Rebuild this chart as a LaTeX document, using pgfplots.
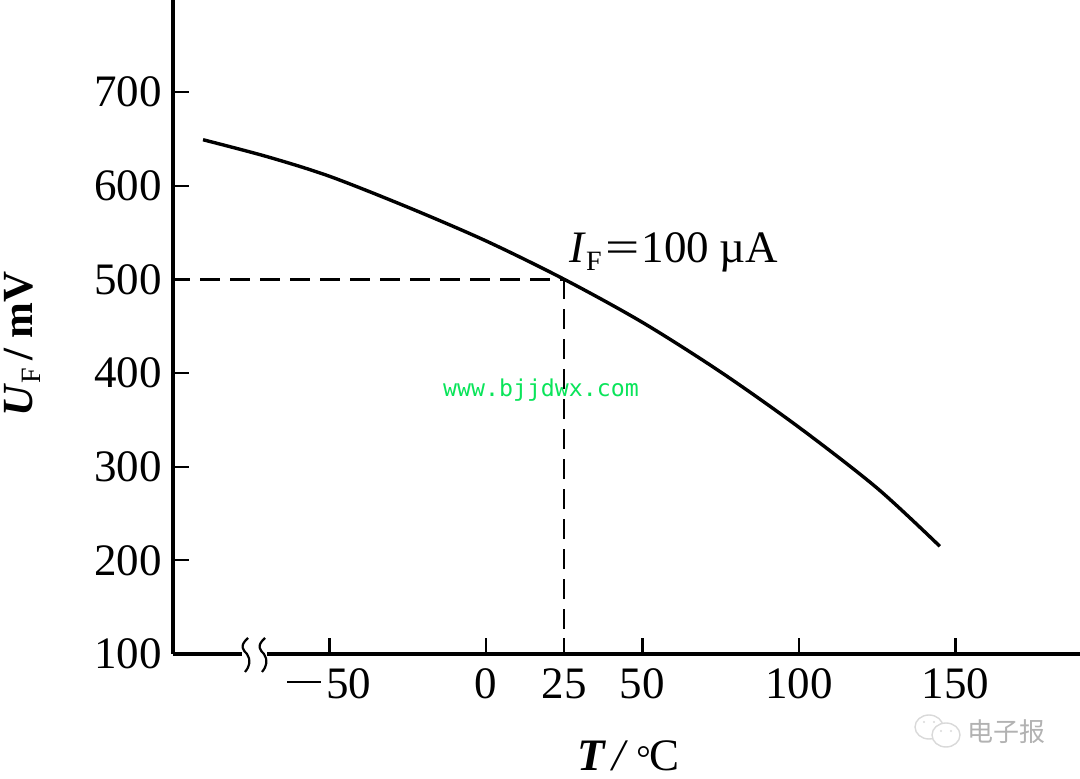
\documentclass[border=0pt]{standalone}
\usepackage{fontspec}
\usepackage{graphicx}
\usepackage{pgfplots}
\pgfplotsset{compat=1.18}
\setmainfont{Liberation Serif}
\newfontfamily\cjk{Noto Sans CJK SC}
\newfontfamily\monof{DejaVu Sans Mono}
\newcommand{\lab}{\fontsize{22.5}{25}\selectfont}
\newcommand{\subl}{\fontsize{14}{16}\selectfont}
\definecolor{wmgreen}{RGB}{10,228,90}
\begin{document}
\begin{tikzpicture}
% 1 px of the reference = 0.5pt, origin on the axis corner
\useasboundingbox (-86.5pt,-62.5pt) rectangle (453.5pt,327pt);
\begin{axis}[
    scale only axis,
    width=453.5pt,
    height=327pt,
    at={(0pt,0pt)},
    anchor=south west,
    xmin=-100, xmax=189.8,
    ymin=100, ymax=798.2,
    axis x line=bottom,
    axis y line=left,
    axis line style={line width=1.7pt,-},
    clip=false,
    xtick={-50,0,25,50,100,150},
    xticklabels={\makebox[0pt][c]{\rule[8pt]{17pt}{1.1pt}\hspace{2.5pt}50},0,25,50,100,150},
    ytick={100,200,300,400,500,600,700},
    tick style={line width=1.1pt,black},
    tick align=inside,
    major tick length=8pt,
    tick label style={font=\lab},
    xticklabel style={yshift=-4pt},
    yticklabel style={xshift=-2pt},
    /pgf/number format/assume math mode=true,
]
\addplot[black, line width=1.7pt, smooth] coordinates {
    (-90.4,649) (-70,631) (-50,610) (-25,577) (0,541) (25,500)
    (50,454) (75,401) (100,342) (125,277) (145,215)
};
\addplot[black, line width=1.4pt, dash pattern=on 10pt off 5pt, dash phase=1.5pt] coordinates {
    (-100,500) (25,500)
};
\addplot[black, line width=1.1pt, dash pattern=on 10pt off 5pt] coordinates {
    (25,500) (25,100)
};
\end{axis}
% axis break
\fill[white] (34.5pt,-2pt) rectangle (47pt,2pt);
\foreach \dx in {0pt,8.5pt}{
  \draw[line width=1.1pt,xshift=\dx] (37.5pt,8pt) .. controls (33pt,4pt) and (35pt,2pt) .. (37pt,0pt)
     .. controls (39pt,-3pt) and (38.5pt,-6pt) .. (36pt,-9pt);
}
% labels
\node[anchor=base west,inner sep=0pt] at (198pt,195.5pt) {\lab\textit{I}\raisebox{-4pt}{\subl F}\hspace{2pt}\scalebox{1.35}[1]{=}\hspace{1pt}100\hspace{5pt}µA};
\node[anchor=base west,inner sep=0pt] at (202pt,-58.5pt) {\lab\textbf{\textit{T}}\hspace{3pt}\textit{/}\hspace{4pt}{\fontsize{18}{20}\selectfont °}\hspace{-.5pt}C};
\node[anchor=base,inner sep=0pt,rotate=90] at (-70pt,155pt) {\fontsize{21.5}{24}\selectfont\textbf{\textit{U}}\raisebox{-4pt}{\subl F}\,\textbf{/ mV}};
\node[inner sep=0pt,text=wmgreen] at (184pt,132pt) {\monof\fontsize{11.6}{13}\selectfont www.bjjdwx.com};
% watermark
\begin{scope}[gray!30,line width=.7pt]
\draw (378pt,-36.5pt) ellipse (7pt and 6pt);
\draw[fill=white] (386.5pt,-40.5pt) ellipse (7pt and 6pt);
\fill (375.5pt,-34pt) circle (.6pt) (380.5pt,-34pt) circle (.6pt) (384pt,-38.5pt) circle (.6pt) (389pt,-38.5pt) circle (.6pt);
\end{scope}
\node[inner sep=0pt,text=gray!60] at (416.5pt,-39pt) {\cjk\fontsize{13}{15}\selectfont 电子报};
\end{tikzpicture}
\end{document}
